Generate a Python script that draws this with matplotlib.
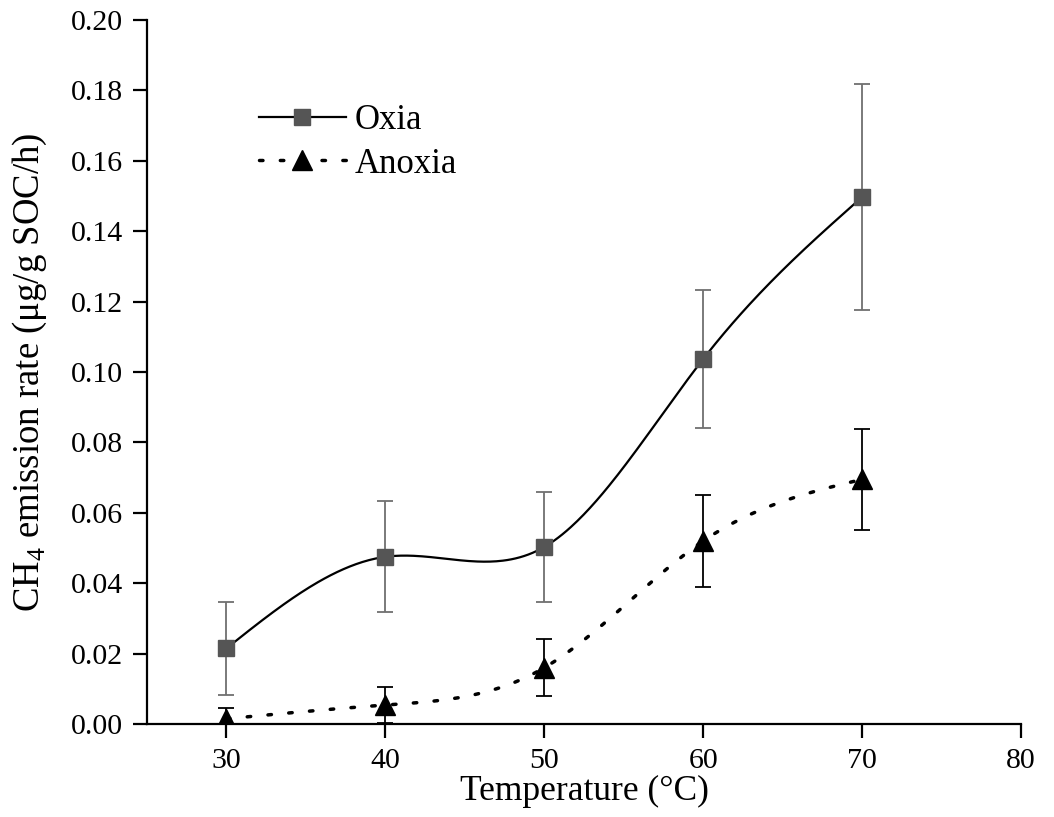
import numpy as np
import matplotlib
matplotlib.use("Agg")
import matplotlib.pyplot as plt

temps = [30, 40, 50, 60, 70]
oxia = [0.0215, 0.0475, 0.0503, 0.1037, 0.1497]
oxia_err = [0.0133, 0.0158, 0.0155, 0.0195, 0.0320]
anoxia = [0.0015, 0.0054, 0.0160, 0.0520, 0.0695]
anoxia_err = [0.0030, 0.0050, 0.0081, 0.0130, 0.0143]

plt.rcParams['font.family'] = ['Liberation Serif', 'DejaVu Serif', 'Noto Sans CJK SC']
plt.rcParams['mathtext.fontset'] = 'custom'
plt.rcParams['mathtext.rm'] = 'Liberation Serif'


def natural_spline(x, y, n=300):
    # plain natural cubic spline, only used to draw the smooth connecting curve
    x = np.asarray(x, float)
    y = np.asarray(y, float)
    k = len(x)
    h = np.diff(x)
    A = np.zeros((k, k))
    b = np.zeros(k)
    A[0, 0] = A[-1, -1] = 1
    for i in range(1, k - 1):
        A[i, i - 1] = h[i - 1]
        A[i, i] = 2 * (h[i - 1] + h[i])
        A[i, i + 1] = h[i]
        b[i] = 6 * ((y[i + 1] - y[i]) / h[i] - (y[i] - y[i - 1]) / h[i - 1])
    M = np.linalg.solve(A, b)
    xs = np.linspace(x[0], x[-1], n)
    idx = np.clip(np.searchsorted(x, xs) - 1, 0, k - 2)
    x0, x1 = x[idx], x[idx + 1]
    hh = x1 - x0
    t0, t1 = x1 - xs, xs - x0
    ys = (M[idx] * t0**3 + M[idx + 1] * t1**3) / (6 * hh) \
        + (y[idx] / hh - M[idx] * hh / 6) * t0 \
        + (y[idx + 1] / hh - M[idx + 1] * hh / 6) * t1
    return xs, ys


fig = plt.figure(figsize=(10.54, 8.17), dpi=100)
ax = fig.add_axes([0.1395, 0.1138, 0.8292, 0.8617])

dotted = (0, (1.0, 6.0))

# Oxia
xs, ys = natural_spline(temps, oxia)
ax.plot(xs, ys, color='black', lw=1.6, zorder=2)
ax.errorbar(temps, oxia, yerr=oxia_err, fmt='none', ecolor='#707070',
            elinewidth=1.3, capsize=5.5, capthick=1.3, zorder=3)
ax.plot(temps, oxia, 's', color='#555555', ms=11, zorder=4)

# Anoxia
xs, ys = natural_spline(temps, anoxia)
ax.plot(xs, ys, color='black', lw=2.5, linestyle=(0, (1.0, 5.0)),
        dash_capstyle='round', zorder=2)
ax.errorbar(temps, anoxia, yerr=anoxia_err, fmt='none', ecolor='black',
            elinewidth=1.3, capsize=5.5, capthick=1.3, zorder=3)
ax.plot(temps, anoxia, '^', color='black', ms=14, zorder=4)

# legend proxies
h1, = ax.plot([], [], '-s', color='black', mfc='#555555', mec='#555555', ms=11, lw=1.6)
h2, = ax.plot([], [], '^', color='black', ms=14, lw=2.5, linestyle=(0, (1.0, 5.0)),
              dash_capstyle='round')
ax.legend([h1, h2], ['Oxia', 'Anoxia'], loc='upper left',
          bbox_to_anchor=(0.1, 0.915), frameon=False, fontsize=25,
          handlelength=2.5, handletextpad=0.25, labelspacing=0.3,
          borderaxespad=0.3)

ax.set_xlim(25, 80)
ax.set_ylim(0, 0.20)
ax.set_xticks([30, 40, 50, 60, 70, 80])
ax.set_yticks(np.arange(0, 0.201, 0.02))
ax.yaxis.set_major_formatter(matplotlib.ticker.FormatStrFormatter('%.2f'))

ax.spines['top'].set_visible(False)
ax.spines['right'].set_visible(False)
for s in ['left', 'bottom']:
    ax.spines[s].set_linewidth(1.6)
ax.tick_params(direction='out', length=10, width=1.6, labelsize=21.5, pad=7)

ax.set_xlabel('Temperature (\u00b0C)', fontsize=25.5, labelpad=1)
ax.set_ylabel('CH$_4$ emission rate (\u03bcg/g SOC/h)', fontsize=26.5, labelpad=16)

plt.savefig('out.png', dpi=100)
plt.close()
